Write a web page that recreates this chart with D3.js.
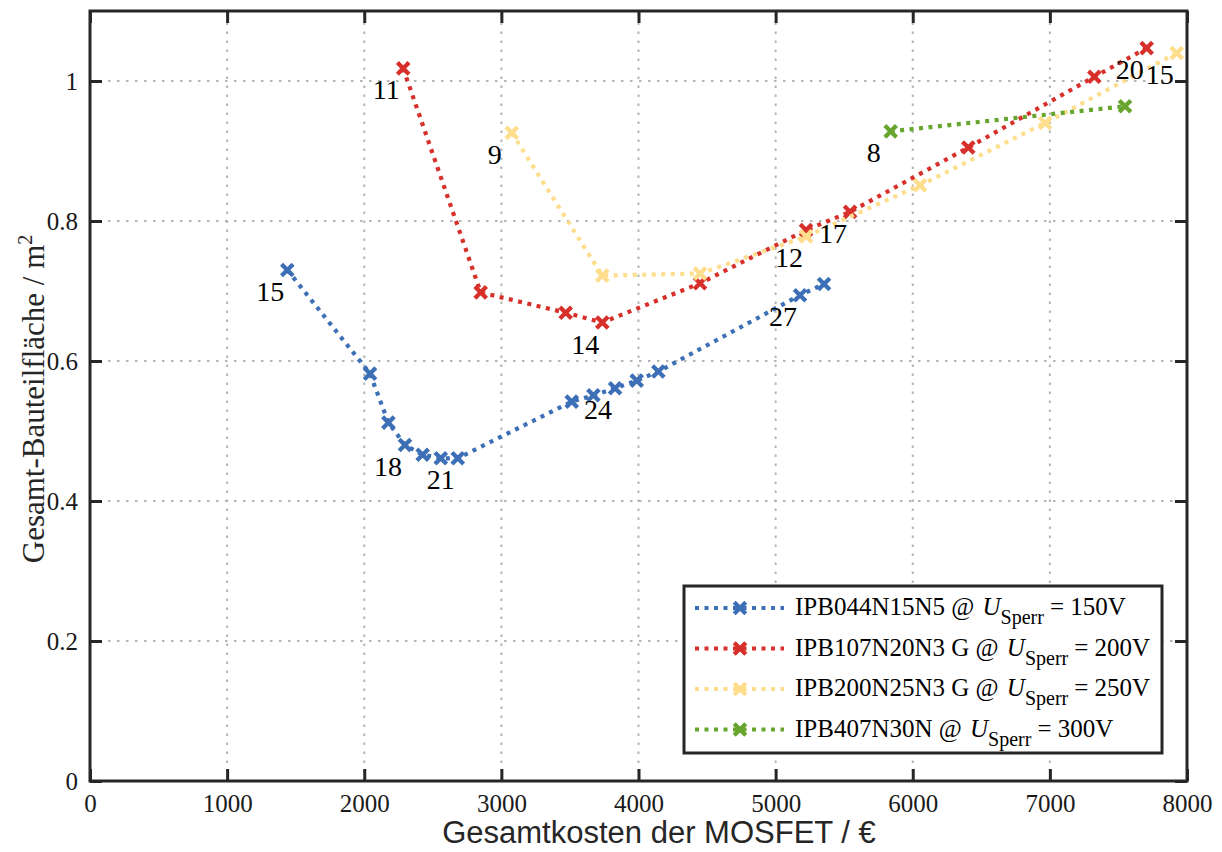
<!DOCTYPE html>
<html>
<head>
<meta charset="utf-8">
<script src="https://cdn.jsdelivr.net/npm/d3@7"></script>
<style>
  html, body { margin: 0; padding: 0; background: #ffffff; }
  svg { display: block; }
</style>
</head>
<body>
<svg id="chart" width="1222" height="852"></svg>
<script>
// ---------------- data ----------------
const xTicks = [0, 1000, 2000, 3000, 4000, 5000, 6000, 7000, 8000];
const yTicks = [0, 0.2, 0.4, 0.6, 0.8, 1];
const yTickLabels = ["0", "0.2", "0.4", "0.6", "0.8", "1"];

const seriesNames = ["IPB044N15N5 @ ", "IPB107N20N3 G @ ", "IPB200N25N3 G @ ", "IPB407N30N @ "];
const seriesVoltages = ["150V", "200V", "250V", "300V"];

const blueX = [1439, 2042, 2176, 2297, 2426, 2558, 2682, 3513, 3671, 3829, 3987, 4145, 5178, 5353];
const blueY = [0.730, 0.582, 0.512, 0.480, 0.466, 0.461, 0.461, 0.542, 0.551, 0.561, 0.572, 0.585, 0.694, 0.710];
const blueLabels = ["15", "", "", "18", "", "", "21", "", "", "24", "", "", "27", ""];

const redX = [2284, 2849, 3469, 3736, 4449, 5222, 5543, 6405, 7324, 7706];
const redY = [1.018, 0.698, 0.669, 0.655, 0.711, 0.787, 0.813, 0.905, 1.006, 1.047];
const redLabels = ["11", "", "", "14", "", "", "17", "", "", "20"];

const yellowX = [3076, 3736, 4449, 5222, 6053, 6965, 7925];
const yellowY = [0.926, 0.722, 0.725, 0.778, 0.851, 0.940, 1.040];
const yellowLabels = ["9", "", "", "12", "", "", "15"];

const greenX = [5839, 7548];
const greenY = [0.928, 0.964];
const greenLabels = ["8", ""];

const colors = ["#3d6fb6", "#d7302b", "#fedd8c", "#67a52e"];

const series = [
  { xs: blueX, ys: blueY, labels: blueLabels },
  { xs: redX, ys: redY, labels: redLabels },
  { xs: yellowX, ys: yellowY, labels: yellowLabels },
  { xs: greenX, ys: greenY, labels: greenLabels }
];

// ---------------- layout ----------------
const L = 90, R = 1187, T = 11, B = 781;
const x = d3.scaleLinear().domain([0, 8000]).range([L, R]);
const y = d3.scaleLinear().domain([0, 1.1]).range([B, T]);

const svg = d3.select("#chart");
const serif = "Liberation Serif, Times New Roman, serif";
const sans = "Liberation Sans, Arial, sans-serif";
const axisColor = "#262626";

// grid
const grid = svg.append("g");
grid.selectAll("line.vx").data(xTicks.slice(1)).join("line")
  .attr("x1", d => x(d)).attr("x2", d => x(d)).attr("y1", B).attr("y2", T)
  .attr("stroke", "#b4b4b4").attr("stroke-width", 2).attr("stroke-dasharray", "2.5,6.5");
grid.selectAll("line.hy").data(yTicks.slice(1)).join("line")
  .attr("x1", L).attr("x2", R).attr("y1", d => y(d)).attr("y2", d => y(d))
  .attr("stroke", "#b4b4b4").attr("stroke-width", 2).attr("stroke-dasharray", "2.5,6.5");

// axes with inward ticks
const tickLen = 12;
const axB = svg.append("g").attr("transform", `translate(0,${B})`)
  .call(d3.axisBottom(x).tickValues(xTicks).tickSize(-tickLen).tickPadding(13).tickFormat(d3.format("d")));
const axT = svg.append("g").attr("transform", `translate(0,${T})`)
  .call(d3.axisTop(x).tickValues(xTicks).tickSize(-tickLen).tickFormat(""));
const axL = svg.append("g").attr("transform", `translate(${L},0)`)
  .call(d3.axisLeft(y).tickValues(yTicks).tickSize(-tickLen).tickPadding(12).tickFormat((d, i) => yTickLabels[i]));
const axR = svg.append("g").attr("transform", `translate(${R},0)`)
  .call(d3.axisRight(y).tickValues(yTicks).tickSize(-tickLen).tickFormat(""));

[axB, axT, axL, axR].forEach(a => {
  a.attr("font-family", serif).attr("font-size", 25);
  a.select(".domain").remove();
  a.selectAll(".tick line").attr("stroke", axisColor).attr("stroke-width", 3);
  a.selectAll(".tick text").attr("fill", "#1a1a1a")
    .attr("font-family", serif).attr("font-size", 25);
});
axB.selectAll(".tick text").attr("dy", "0.71em");

// frame
svg.append("rect").attr("x", L).attr("y", T).attr("width", R - L).attr("height", B - T)
  .attr("fill", "none").attr("stroke", axisColor).attr("stroke-width", 3);

// lines and markers
const line = d3.line().x(d => x(d[0])).y(d => y(d[1]));
function xMarker(g, cx, cy, color, s) {
  g.append("path")
    .attr("d", `M${cx - s},${cy - s}L${cx + s},${cy + s}M${cx - s},${cy + s}L${cx + s},${cy - s}`)
    .attr("stroke", color).attr("stroke-width", 4.3).attr("fill", "none");
}
const plot = svg.append("g");
series.forEach((s, i) => {
  const pts = s.xs.map((v, j) => [v, s.ys[j]]);
  plot.append("path").datum(pts).attr("d", line)
    .attr("fill", "none").attr("stroke", colors[i]).attr("stroke-width", 4.2)
    .attr("stroke-dasharray", "4,5.5");
  pts.forEach(p => xMarker(plot, x(p[0]), y(p[1]), colors[i], 5.8));
});

// point labels
const lab = svg.append("g");
series.forEach(s => {
  s.xs.forEach((v, j) => {
    if (!s.labels[j]) return;
    lab.append("text").attr("x", x(v) - 17).attr("y", y(s.ys[j]) + 31)
      .attr("text-anchor", "middle").attr("font-family", serif).attr("font-size", 28)
      .attr("fill", "#000").text(s.labels[j]);
  });
});

// axis titles
svg.append("text").attr("x", 659).attr("y", 843).attr("text-anchor", "middle")
  .attr("font-family", sans).attr("font-size", 31).attr("fill", "#262626")
  .text("Gesamtkosten der MOSFET / €");

const yt = svg.append("text").attr("transform", "translate(44,399) rotate(-90)")
  .attr("text-anchor", "middle").attr("font-family", serif).attr("font-size", 31).attr("fill", "#262626");
yt.append("tspan").text("Gesamt-Bauteilfläche / m");
yt.append("tspan").attr("dy", -12).attr("font-size", 20).text("2");

// legend
const lg = svg.append("g");
lg.append("rect").attr("x", 684).attr("y", 586).attr("width", 478).attr("height", 167)
  .attr("fill", "#fff").attr("stroke", axisColor).attr("stroke-width", 3);
seriesNames.forEach((name, i) => {
  const cy = 608 + i * 40.5;
  lg.append("line").attr("x1", 695).attr("x2", 784).attr("y1", cy).attr("y2", cy)
    .attr("stroke", colors[i]).attr("stroke-width", 4.2).attr("stroke-dasharray", "4,5.5");
  xMarker(lg, 740, cy, colors[i], 5.8);
  const t = lg.append("text").attr("x", 795).attr("y", cy + 7)
    .attr("font-family", serif).attr("font-size", 25).attr("fill", "#000");
  t.append("tspan").text(name);
  t.append("tspan").attr("font-style", "italic").attr("dx", 2).text("U");
  t.append("tspan").attr("dy", 9).attr("font-size", 20).text("Sperr");
  t.append("tspan").attr("dy", -9).attr("dx", 6).text("= " + seriesVoltages[i]);
});
</script>
</body>
</html>
